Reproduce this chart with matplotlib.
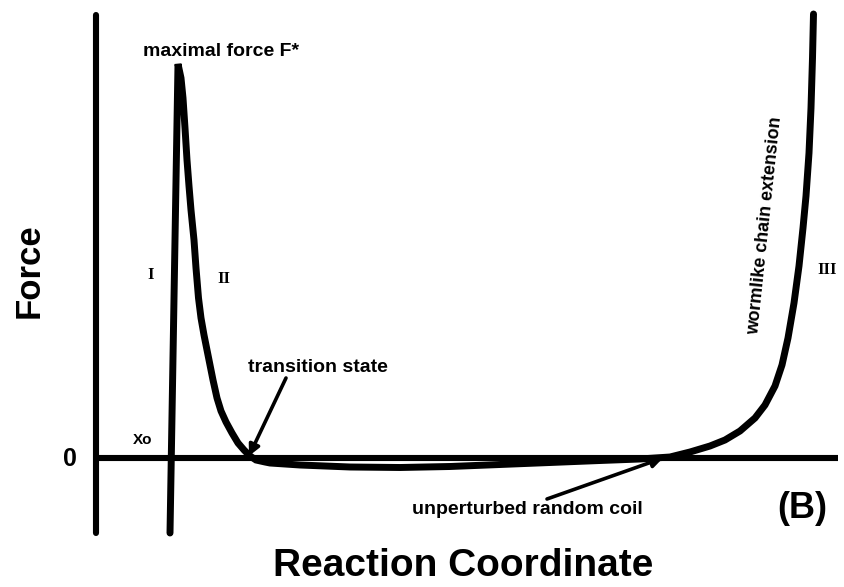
import matplotlib
matplotlib.use("Agg")
import matplotlib.pyplot as plt

# Reaction coordinate (arbitrary units) and force (arbitrary units, 0 = baseline)
reaction_coord = [73, 81, 84, 86, 88, 90, 92, 94, 97, 99, 101.5, 104, 107, 110, 113,
                  116, 120, 124, 129, 135, 141, 147, 153, 159, 168, 173, 203, 253,
                  303, 353, 403, 453, 503, 543, 573, 593, 613, 628, 643, 658, 668,
                  678, 685, 691, 697, 702, 706, 709, 712, 714, 715.5, 716.5]
force = [-75, 394, 380, 360, 330, 298, 272, 248, 218, 190, 160, 140, 123, 108, 93,
         78, 60, 47, 36, 25, 15, 8, 2, -2, -4, -5, -7, -9, -9.5, -8.5, -6.5, -4.5,
         -2.5, -1, 1, 6, 12, 18, 27, 40, 53, 72, 93, 120, 155, 192, 230, 262, 305,
         350, 400, 444]

axis_top = 443
axis_bottom = -75
x_start = -1
x_end = 741

fig = plt.figure(figsize=(8.45, 5.87), dpi=100)
ax = fig.add_axes([0, 0, 1, 1])
ax.set_xlim(-97, 748)
ax.set_ylim(-129, 458)
ax.axis("off")

lw = 4.4
ax.vlines(x_start, axis_bottom, axis_top, color="black", lw=lw, capstyle="round")
ax.hlines(0, x_start, x_end, color="black", lw=lw)
ax.plot(reaction_coord, force, color="black", lw=lw + 0.6,
        solid_joinstyle="miter", solid_capstyle="round")

sans = "Liberation Sans"
serif = "Liberation Serif"

ax.text(46, 407, "maximal force F*", ha="left", va="center",
        fontfamily=sans, fontweight="bold", fontsize=14)
ax.text(151, 90, "transition state", ha="left", va="center",
        fontfamily=sans, fontweight="bold", fontsize=14)
ax.text(315, -51, "unperturbed random coil", ha="left", va="center",
        fontfamily=sans, fontweight="bold", fontsize=14)
ax.text(46, 18, "Xo", ha="center", va="center",
        fontfamily=sans, fontweight="bold", fontsize=11)
ax.text(-27, -1, "0", ha="center", va="center",
        fontfamily=sans, fontweight="bold", fontsize=18)
ax.text(-68, 187, "Force", ha="center", va="center", rotation=90,
        fontfamily=sans, fontweight="bold", fontsize=25)
ax.text(366, -108, "Reaction Coordinate", ha="center", va="center",
        fontfamily=sans, fontweight="bold", fontsize=28)
ax.text(705, -50, "(B)", ha="center", va="center",
        fontfamily=sans, fontweight="bold", fontsize=26)
ax.text(668, 232, "wormlike chain extension", ha="center", va="center",
        rotation=84, rotation_mode="anchor", fontfamily=sans,
        fontweight="bold", fontsize=13)
ax.text(54, 183, "I", ha="center", va="center",
        fontfamily=serif, fontweight="bold", fontsize=12)
ax.text(127, 179, "II", ha="center", va="center",
        fontfamily=serif, fontweight="bold", fontsize=12)
ax.text(730, 188, "III", ha="center", va="center",
        fontfamily=serif, fontweight="bold", fontsize=12)

arrow = dict(arrowstyle="-|>", color="black", lw=2.6, mutation_scale=16,
             shrinkA=0, shrinkB=0)
ax.annotate("", xy=(152, 2), xytext=(189, 80), arrowprops=arrow)
ax.annotate("", xy=(566, 0), xytext=(450, -41), arrowprops=arrow)

fig.savefig("out.png", dpi=100)
